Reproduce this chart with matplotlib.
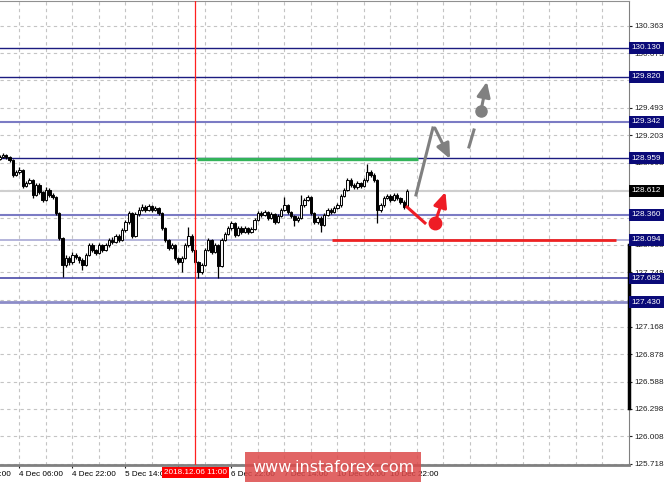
import numpy as np
import matplotlib
matplotlib.use("Agg")
import matplotlib.pyplot as plt
from matplotlib.patches import Rectangle
import matplotlib.transforms as mtransforms

# hourly candles, bar index 0..123 (open = previous close)
first_open = 128.950
closes = [128.971, 128.992, 128.971, 128.939, 128.780, 128.811, 128.833, 128.663, 128.695, 128.727,
          128.568, 128.674, 128.599, 128.514, 128.621, 128.568, 128.546, 128.377, 128.112, 127.825,
          127.899, 127.857, 127.931, 127.910, 127.878, 127.825, 127.931, 128.037, 127.985, 127.952,
          128.037, 127.985, 128.037, 128.090, 128.069, 128.133, 128.090, 128.196, 128.281, 128.377,
          128.133, 128.366, 128.409, 128.440, 128.409, 128.451, 128.409, 128.430, 128.377, 128.218,
          128.090, 128.005, 128.037, 127.899, 127.857, 127.899, 128.037, 128.133, 127.985, 127.857,
          127.751, 127.825, 127.985, 128.090, 127.963, 128.037, 127.815, 128.090, 128.154, 128.218,
          128.271, 128.143, 128.218, 128.175, 128.218, 128.175, 128.207, 128.302, 128.377, 128.355,
          128.387, 128.324, 128.366, 128.281, 128.345, 128.409, 128.461, 128.387, 128.345, 128.302,
          128.324, 128.461, 128.514, 128.546, 128.377, 128.281, 128.324, 128.249, 128.355, 128.409,
          128.387, 128.430, 128.461, 128.557, 128.621, 128.727, 128.674, 128.652, 128.695, 128.663,
          128.727, 128.811, 128.780, 128.727, 128.409, 128.461, 128.536, 128.557, 128.514, 128.568,
          128.536, 128.493, 128.440, 128.612]
highs = [128.990, 129.010, 129.005, 128.985, 128.950, 128.830, 128.860, 128.845, 128.715, 128.745,
         128.740, 128.700, 128.690, 128.615, 128.650, 128.640, 128.590, 128.560, 128.390, 128.120,
         127.930, 127.920, 127.960, 127.950, 127.925, 127.895, 127.950, 128.060, 128.055, 128.000,
         128.060, 128.050, 128.055, 128.110, 128.120, 128.155, 128.150, 128.215, 128.300, 128.400,
         128.390, 128.385, 128.440, 128.475, 128.460, 128.470, 128.465, 128.455, 128.445, 128.390,
         128.230, 128.105, 128.060, 128.050, 127.915, 127.920, 128.055, 128.230, 128.150, 128.000,
         127.870, 127.850, 128.005, 128.115, 128.105, 128.060, 128.050, 128.110, 128.175, 128.240,
         128.295, 128.285, 128.240, 128.235, 128.240, 128.230, 128.225, 128.320, 128.400, 128.395,
         128.410, 128.400, 128.390, 128.380, 128.365, 128.430, 128.546, 128.475, 128.400, 128.360,
         128.345, 128.568, 128.535, 128.570, 128.560, 128.390, 128.345, 128.340, 128.375, 128.430,
         128.425, 128.450, 128.480, 128.575, 128.640, 128.750, 128.745, 128.690, 128.715, 128.710,
         128.750, 128.896, 128.830, 128.800, 128.740, 128.480, 128.560, 128.580, 128.575, 128.590,
         128.585, 128.550, 128.510, 128.630]
lows = [128.935, 128.955, 128.950, 128.920, 128.760, 128.765, 128.795, 128.640, 128.650, 128.680,
        128.540, 128.555, 128.580, 128.495, 128.500, 128.545, 128.530, 128.360, 128.090, 127.698,
        127.800, 127.830, 127.840, 127.885, 127.850, 127.770, 127.810, 127.920, 127.965, 127.930,
        127.940, 127.965, 127.970, 128.020, 128.050, 128.055, 128.070, 128.075, 128.180, 128.265,
        128.110, 128.120, 128.350, 128.395, 128.390, 128.395, 128.390, 128.395, 128.360, 128.200,
        128.070, 127.985, 127.990, 127.880, 127.835, 127.751, 127.885, 128.020, 127.965, 127.835,
        127.687, 127.730, 127.810, 127.970, 127.945, 127.950, 127.687, 127.800, 128.075, 128.140,
        128.200, 128.120, 128.130, 128.155, 128.160, 128.150, 128.160, 128.195, 128.290, 128.335,
        128.340, 128.300, 128.310, 128.260, 128.270, 128.330, 128.395, 128.370, 128.325, 128.240,
        128.285, 128.310, 128.445, 128.500, 128.360, 128.260, 128.265, 128.175, 128.235, 128.340,
        128.370, 128.375, 128.415, 128.445, 128.545, 128.605, 128.655, 128.630, 128.635, 128.645,
        128.650, 128.710, 128.760, 128.705, 128.271, 128.390, 128.445, 128.520, 128.495, 128.500,
        128.515, 128.475, 128.420, 128.425]

# horizontal levels drawn on the chart
levels = [130.130, 129.820, 129.342, 128.959, 128.360, 128.094, 127.682, 127.430]
level_colors = ['#1c1c80', '#1c1c80', '#7b7bc4', '#1c1c80', '#7b7bc4', '#a8a8d4', '#4a4aa8', '#8c8cc8']
level_widths = [1.0, 1.0, 1.5, 1.0, 1.5, 1.2, 1.2, 2.0]
current_price = 128.612

# price axis ticks
ytick_vals = [125.718, 126.008, 126.298, 126.588, 126.878, 127.168, 127.458, 127.748, 128.038,
              128.328, 128.618, 128.908, 129.203, 129.493, 129.783, 130.073, 130.363]
ytick_text = ['125.718', '126.008', '126.298', '126.588', '126.878', '127.168', '127.458', '127.748',
              '128.038', '128.328', '128.618', '128.908', '129.203', '129.493', '129.783', '130.073',
              '130.363']

# time labels (bar index, text)
time_bars = [-10, 6, 22, 38, 54, 70, 86, 102, 118]
time_text = ['3 Dec 14:00', '4 Dec 06:00', '4 Dec 22:00', '5 Dec 14:00', '6 Dec 06:00',
             '6 Dec 22:00', '7 Dec 14:00', '10 Dec 06:00', '10 Dec 22:00']
marker_bar = 59
marker_text = '2018.12.06 11:00'

# forecast drawings (bar, price)
green_seg = ([59.6, 126.3], [128.947, 128.947])
red_seg = ([100.3, 186.1], [128.094, 128.094])
gray_up = ([125.7, 130.8], [128.568, 129.278])
gray_down = ((131.4, 129.278), (136.0, 128.950))
gray_dash = ([141.7, 143.2], [129.077, 129.257])
gray_dot = (145.3, 129.458)
gray_tip = (147.1, 129.770)
red_down = ([123.0, 128.4], [128.440, 128.271])
red_dot = (131.4, 128.271)
red_tip = (134.6, 128.600)

plt.rcParams['font.family'] = ['Liberation Sans', 'DejaVu Sans']
fig = plt.figure(figsize=(6.65, 4.83), dpi=100)
ax = fig.add_axes([0.0, 18 / 483, 629.3 / 665, 464 / 483])
ax.set_xlim(0.113, 190.1)
ax.set_ylim(125.704, 130.625)

# grid
for v in ytick_vals:
    ax.axhline(v, color='#c4c4c4', lw=0.8, ls=(0, (3, 3)), zorder=0)
for b in range(6, 190, 8):
    ax.axvline(b, color='#c4c4c4', lw=0.8, ls=(0, (3, 3)), zorder=0)

# bid line
ax.axhline(current_price, color='#cfcfcf', lw=1.5, zorder=1)

# levels
for lv, c, w in zip(levels, level_colors, level_widths):
    ax.axhline(lv, color=c, lw=w, zorder=2)

# candles
opens = [first_open] + closes[:-1]
xs = np.arange(len(closes))
ax.vlines(xs, lows, highs, color='black', lw=0.9, zorder=3)
for x, o, c in zip(xs, opens, closes):
    fc = '#f4f4f4' if c >= o else 'black'
    h = c - o if abs(c - o) > 0.004 else 0.004
    ax.add_patch(Rectangle((x - 0.36, o), 0.72, h, facecolor=fc, edgecolor='black', lw=0.7, zorder=4))

# drawings
ax.plot(*green_seg, color='#33b35a', lw=2.4, zorder=5, solid_capstyle='butt')
ax.plot(*red_seg, color='#ee2222', lw=2.0, zorder=5, solid_capstyle='butt')
ax.axvline(marker_bar, color='#ff2020', lw=0.9, zorder=6)

head = '-|>,head_length=0.9,head_width=0.4'
ax.plot(*gray_up, color='#808080', lw=2.2, zorder=7)
ax.annotate('', xy=gray_down[1], xytext=gray_down[0], zorder=7,
            arrowprops=dict(arrowstyle=head, color='#808080', lw=2.2, shrinkA=0, shrinkB=0))
ax.plot(*gray_dash, color='#808080', lw=2.2, zorder=7)
ax.plot(*gray_dot, 'o', color='#808080', ms=8, zorder=7)
ax.annotate('', xy=gray_tip, xytext=gray_dot, zorder=7,
            arrowprops=dict(arrowstyle=head, color='#808080', lw=2.2, shrinkA=0, shrinkB=0))

ax.plot(*red_down, color='#ee1c25', lw=2.2, zorder=7)
ax.plot(*red_dot, 'o', color='#ee1c25', ms=9, zorder=7)
ax.annotate('', xy=red_tip, xytext=red_dot, zorder=7,
            arrowprops=dict(arrowstyle=head, color='#ee1c25', lw=2.2, shrinkA=0, shrinkB=0))

# axes look
ax.spines['left'].set_visible(False)
ax.spines['top'].set_color('#909090')
ax.spines['right'].set_color('#808080')
ax.spines['bottom'].set_color('#808080')
ax.spines['bottom'].set_linewidth(2)
ax.yaxis.tick_right()
ax.set_yticks(ytick_vals)
ax.set_yticklabels(ytick_text)
ax.tick_params(axis='y', length=2.2, pad=1.5, labelsize=5.9, colors='#202020')
ax.set_xticks(time_bars[1:])
ax.set_xticklabels([])
ax.tick_params(axis='x', length=2.5, colors='#202020')

# time labels
trans_x = mtransforms.blended_transform_factory(ax.transData, ax.transAxes)
for b, t in zip(time_bars, time_text):
    ax.text(b, -0.012, t, transform=trans_x, ha='left', va='top', fontsize=5.9, clip_on=False)
ax.text(marker_bar, -0.009, marker_text, transform=trans_x, ha='center', va='top', fontsize=5.9,
        color='white', clip_on=False, zorder=10,
        bbox=dict(boxstyle='square,pad=0.25', fc='#ff0000', ec='none'))

# right side level boxes
trans_y = mtransforms.blended_transform_factory(ax.transAxes, ax.transData)
for lv in levels:
    ax.text(1.004, lv, '%.3f' % lv, transform=trans_y, ha='left', va='center', fontsize=5.9,
            color='white', clip_on=False, zorder=10,
            bbox=dict(boxstyle='square,pad=0.3', fc='#0a0a78', ec='none'))
ax.text(1.004, current_price, '%.3f' % current_price, transform=trans_y, ha='left', va='center',
        fontsize=5.9, color='white', clip_on=False, zorder=10,
        bbox=dict(boxstyle='square,pad=0.3', fc='black', ec='none'))
ax.plot([1.0, 1.0], [126.309, 128.04], transform=trans_y, color='black', lw=2.5, clip_on=False, zorder=9)

# watermark
fig.patches.append(Rectangle((245, 1), 176, 30, transform=None, facecolor='#dc4a4a', alpha=0.85,
                             edgecolor='none', zorder=20))
fig.text(333 / 665, 16 / 483, 'www.instaforex.com', ha='center', va='center', color='white',
         fontsize=11.5, family='DejaVu Sans', zorder=21)

fig.savefig('out.png', dpi=100)
